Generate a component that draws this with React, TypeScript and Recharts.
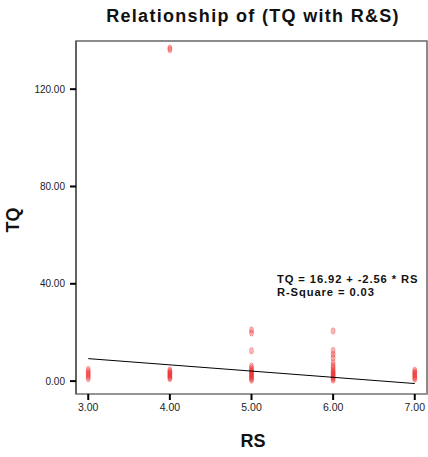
import React from 'react';
import { ScatterChart, Scatter, XAxis, YAxis, ReferenceArea, Customized } from 'recharts';

const xTicks = [3, 4, 5, 6, 7];
const yTicks = [0, 40, 80, 120];

const tqAtRs3 = [1.0, 1.8, 2.5, 3.2, 4.0, 4.8];
const tqAtRs4 = [1.0, 1.5, 2.0, 2.5, 3.0, 3.5, 4.0, 4.6, 136.2, 136.9];
const tqAtRs5 = [0.4, 1.0, 1.5, 2.0, 2.5, 3.0, 3.5, 4.0, 4.6, 5.3, 6.2, 12.5, 19.8, 21.0];
const tqAtRs6 = [0.4, 1.0, 1.5, 2.0, 2.5, 3.0, 3.5, 4.0, 4.7, 5.5, 6.4, 7.6, 9.6, 11.0, 12.6, 20.6];
const tqAtRs7 = [0.8, 1.4, 2.0, 2.6, 3.2, 3.8, 4.5];

const intercept = 16.92;
const slope = -2.56;

const points = [
  ...tqAtRs3.map((tq) => ({ rs: 3, tq })),
  ...tqAtRs4.map((tq) => ({ rs: 4, tq })),
  ...tqAtRs5.map((tq) => ({ rs: 5, tq })),
  ...tqAtRs6.map((tq) => ({ rs: 6, tq })),
  ...tqAtRs7.map((tq) => ({ rs: 7, tq })),
];

const fitLine = [3, 7].map((rs) => ({ rs, tq: intercept + slope * rs }));

const X_DOMAIN: [number, number] = [2.85, 7.15];
const Y_DOMAIN: [number, number] = [-5.3, 139.8];

const Marker = (props: any) => {
  const { cx, cy } = props;
  if (cx == null || cy == null) return <g />;
  return (
    <ellipse
      cx={cx}
      cy={cy}
      rx={2}
      ry={3.2}
      fill="rgba(238,45,45,0.33)"
      stroke="rgba(238,45,45,0.3)"
      strokeWidth={1}
    />
  );
};

const Texts = () => (
  <g fontFamily="Arial, 'Liberation Sans', sans-serif" fontWeight="bold" fill="#111">
    <text x={253} y={21.5} textAnchor="middle" fontSize={18} letterSpacing={1.3}>
      Relationship of (TQ with R&amp;S)
    </text>
    <text x={253} y={446.5} textAnchor="middle" fontSize={18}>
      RS
    </text>
    <text x={19} y={220} textAnchor="middle" fontSize={18} transform="rotate(-90 19 220)">
      TQ
    </text>
    <text x={277} y={282.5} fontSize={11.2} letterSpacing={0.9}>
      TQ = 16.92 + -2.56 * RS
    </text>
    <text x={277} y={296} fontSize={11.2} letterSpacing={0.9}>
      R-Square = 0.03
    </text>
  </g>
);

const fmt = (v: number) => v.toFixed(2);

export default function App() {
  return (
    <div style={{ position: 'absolute', left: 0, top: 0, width: 428, height: 457, background: '#fff' }}>
      <ScatterChart width={428} height={457} margin={{ top: 41, right: 1, bottom: 33, left: 16 }}>
        <XAxis
          type="number"
          dataKey="rs"
          domain={X_DOMAIN}
          ticks={xTicks}
          tickFormatter={fmt}
          allowDataOverflow
          height={30}
          tickSize={6}
          tickMargin={4}
          axisLine={{ stroke: '#999', strokeWidth: 1.5 }}
          tickLine={{ stroke: '#000', strokeWidth: 2 }}
          tick={{ fill: '#222', fontSize: 10.5, fontFamily: 'Arial, sans-serif' }}
        />
        <YAxis
          type="number"
          dataKey="tq"
          domain={Y_DOMAIN}
          ticks={yTicks}
          tickFormatter={fmt}
          allowDataOverflow
          width={60}
          tickSize={6}
          tickMargin={5}
          axisLine={{ stroke: '#555', strokeWidth: 1.5 }}
          tickLine={{ stroke: '#000', strokeWidth: 2 }}
          tick={{ fill: '#222', fontSize: 10, fontFamily: 'Arial, sans-serif' }}
        />
        <ReferenceArea
          x1={X_DOMAIN[0]}
          x2={X_DOMAIN[1]}
          y1={Y_DOMAIN[0]}
          y2={Y_DOMAIN[1]}
          fill="none"
          stroke="#666"
          strokeWidth={1.5}
          ifOverflow="visible"
        />
        <Scatter data={points} shape={Marker} isAnimationActive={false} />
        <Scatter
          data={fitLine}
          line={{ stroke: '#000', strokeWidth: 1 }}
          shape={() => <g />}
          isAnimationActive={false}
        />
        <Customized component={Texts} />
      </ScatterChart>
    </div>
  );
}
